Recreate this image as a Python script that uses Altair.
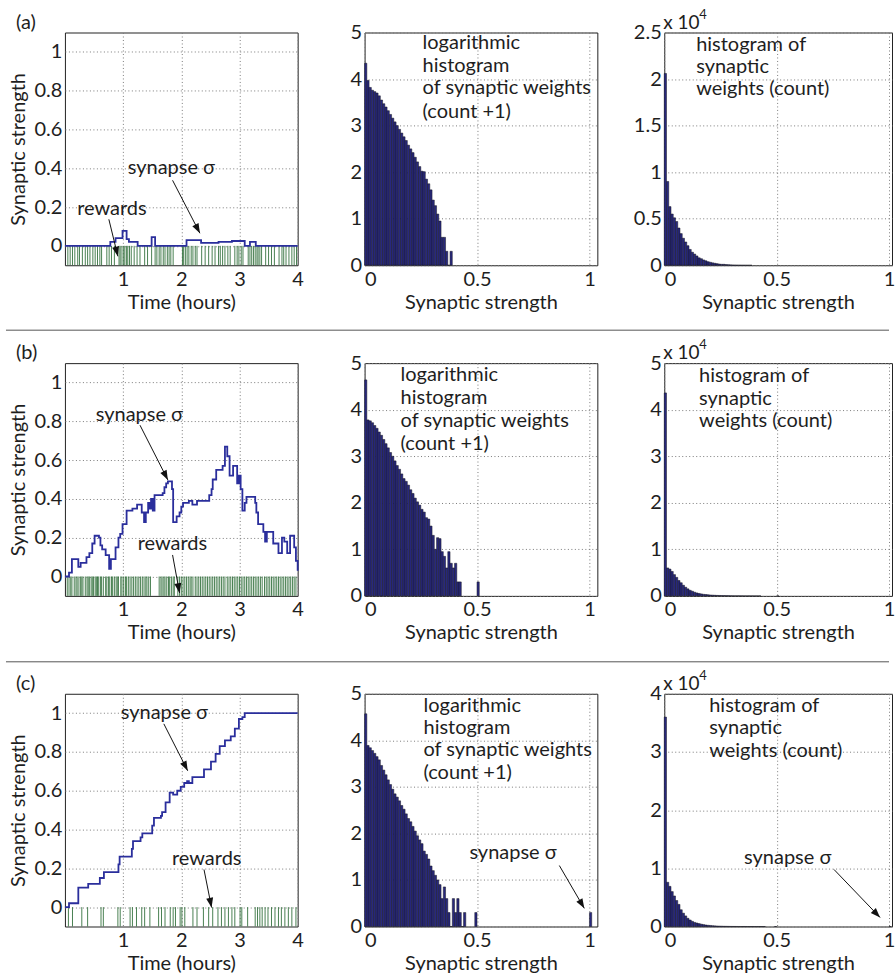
import math
import pandas as pd
import altair as alt

# ---------------- data ----------------
# synapse sigma traces (step-after: time in hours, strength)
syn_a_t = [0.00, 0.78, 0.87, 0.99, 1.06, 1.10, 1.25, 1.49, 1.55, 2.09, 2.34, 2.64, 2.87, 3.09, 3.18, 3.28, 4.00]
syn_a_v = [0.000, 0.020, 0.040, 0.077, 0.035, 0.020, 0.000, 0.045, 0.000, 0.030, 0.015, 0.020, 0.025, 0.000, 0.020, 0.000, 0.000]

syn_b_t = [0.00, 0.07, 0.12, 0.23, 0.27, 0.37, 0.42, 0.47, 0.51, 0.585, 0.61, 0.64, 0.70, 0.76, 0.79, 0.87, 0.92, 0.95,
           0.99, 1.06, 1.16, 1.24, 1.32, 1.36, 1.39, 1.43, 1.46, 1.48, 1.51, 1.54, 1.68, 1.71, 1.74, 1.77, 1.84, 1.86,
           1.92, 1.97, 2.00, 2.03, 2.13, 2.19, 2.27, 2.48, 2.52, 2.54, 2.60, 2.71, 2.75, 2.79, 2.83, 2.89, 2.96, 2.99,
           3.02, 3.05, 3.09, 3.12, 3.27, 3.29, 3.32, 3.41, 3.44, 3.47, 3.58, 3.67, 3.73, 3.77, 3.82, 3.87, 3.94, 3.97, 4.00]
syn_b_v = [0.00, 0.02, 0.09, 0.05, 0.07, 0.10, 0.12, 0.17, 0.21, 0.20, 0.16, 0.14, 0.11, 0.04, 0.09, 0.15, 0.20, 0.22,
           0.27, 0.34, 0.35, 0.37, 0.33, 0.28, 0.33, 0.38, 0.35, 0.40, 0.34, 0.42, 0.43, 0.46, 0.48, 0.49, 0.45, 0.28,
           0.31, 0.33, 0.36, 0.38, 0.39, 0.37, 0.39, 0.42, 0.45, 0.50, 0.55, 0.57, 0.67, 0.62, 0.52, 0.57, 0.48, 0.52,
           0.45, 0.34, 0.38, 0.41, 0.38, 0.33, 0.27, 0.23, 0.18, 0.23, 0.17, 0.12, 0.20, 0.18, 0.12, 0.21, 0.15, 0.08, 0.03]

syn_c_t = [0.00, 0.07, 0.23, 0.40, 0.60, 0.67, 0.92, 0.94, 1.15, 1.17, 1.30, 1.33, 1.50, 1.53, 1.65, 1.67, 1.73, 1.80,
           1.86, 1.93, 1.99, 2.05, 2.10, 2.13, 2.19, 2.39, 2.51, 2.59, 2.66, 2.75, 2.85, 2.92, 2.99, 3.05, 3.09, 4.00]
syn_c_v = [0.00, 0.02, 0.10, 0.12, 0.15, 0.18, 0.22, 0.26, 0.30, 0.34, 0.36, 0.38, 0.42, 0.46, 0.47, 0.49, 0.54, 0.59,
           0.58, 0.60, 0.62, 0.64, 0.65, 0.64, 0.67, 0.71, 0.75, 0.79, 0.83, 0.86, 0.88, 0.92, 0.97, 0.98, 1.00, 1.00]

# reward times (hours)
rew_a = [0.05, 0.09, 0.13, 0.17, 0.22, 0.25, 0.30, 0.35, 0.39, 0.43, 0.48, 0.52, 0.56, 0.60, 0.63, 0.72, 0.76, 0.80,
         0.85, 0.93, 0.95, 0.98, 1.01, 1.03, 1.06, 1.08, 1.11, 1.14, 1.19, 1.24, 1.29, 1.37, 1.42, 1.49, 1.55, 1.58,
         1.62, 1.65, 1.69, 1.72, 1.76, 1.79, 1.82, 1.86, 2.02, 2.04, 2.07, 2.10, 2.13, 2.17, 2.20, 2.24, 2.27, 2.35,
         2.41, 2.47, 2.53, 2.58, 2.64, 2.67, 2.71, 2.75, 2.80, 2.84, 2.92, 2.96, 2.99, 3.03, 3.06, 3.15, 3.18, 3.21,
         3.24, 3.27, 3.30, 3.32, 3.35, 3.38, 3.45, 3.50, 3.55, 3.60, 3.68, 3.73, 3.76, 3.80, 3.85, 3.90, 3.94, 3.98]
rew_b = [0.04, 0.07, 0.10, 0.12, 0.16, 0.19, 0.21, 0.24, 0.27, 0.29, 0.31, 0.35, 0.38, 0.40, 0.42, 0.45, 0.47, 0.49,
         0.52, 0.54, 0.56, 0.58, 0.61, 0.63, 0.66, 0.70, 0.72, 0.75, 0.77, 0.80, 0.82, 0.85, 0.88, 0.90, 0.92, 0.96,
         0.98, 1.01, 1.04, 1.06, 1.09, 1.12, 1.15, 1.18, 1.21, 1.24, 1.27, 1.30, 1.33, 1.36, 1.39, 1.41, 1.44, 1.47,
         1.62, 1.65, 1.67, 1.70, 1.72, 1.75, 1.78, 1.80, 1.83, 1.86, 1.88, 1.94, 1.97, 2.00, 2.03, 2.06, 2.09, 2.12,
         2.15, 2.17, 2.20, 2.24, 2.27, 2.30, 2.33, 2.36, 2.39, 2.42, 2.45, 2.48, 2.51, 2.54, 2.57, 2.60, 2.63, 2.66,
         2.69, 2.72, 2.75, 2.79, 2.82, 2.85, 2.88, 2.91, 2.94, 2.97, 3.00, 3.03, 3.06, 3.09, 3.12, 3.15, 3.18, 3.21,
         3.24, 3.27, 3.30, 3.33, 3.36, 3.39, 3.43, 3.46, 3.49, 3.52, 3.55, 3.58, 3.61, 3.64, 3.67, 3.70, 3.73, 3.76,
         3.79, 3.82, 3.85, 3.88, 3.91, 3.94, 3.97]
rew_c = [0.06, 0.13, 0.29, 0.39, 0.62, 0.66, 0.91, 0.95, 1.12, 1.16, 1.23, 1.32, 1.37, 1.46, 1.61, 1.66, 1.72, 1.81,
         1.86, 1.90, 1.98, 2.01, 2.06, 2.20, 2.27, 2.38, 2.47, 2.54, 2.63, 2.69, 2.75, 2.81, 2.87, 2.92, 3.01, 3.04,
         3.14, 3.27, 3.31, 3.35, 3.39, 3.44, 3.49, 3.55, 3.61, 3.67, 3.72, 3.78, 3.84, 3.90, 3.97]

# histograms, bins of width 0.01 starting at 0: log10(count+1) and count (x 10^4)
log_a = [4.34, 3.97, 3.82, 3.76, 3.73, 3.70, 3.64, 3.55, 3.47, 3.40, 3.32, 3.24, 3.16, 3.08, 3.00, 2.92, 2.84, 2.76,
         2.68, 2.58, 2.50, 2.42, 2.32, 2.22, 2.12, 2.02, 2.01, 1.85, 1.75, 1.62, 1.40, 1.28, 1.10, 0.95, 0.60, 0.60,
         0.30, 0.00, 0.30]
cnt_a = [2.06, 0.90, 0.63, 0.55, 0.51, 0.47, 0.40, 0.34, 0.29, 0.25, 0.21, 0.17, 0.14, 0.12, 0.10, 0.08, 0.07, 0.057,
         0.048, 0.038, 0.032, 0.026, 0.021, 0.017, 0.013, 0.010, 0.010, 0.007, 0.0056, 0.004, 0.0025, 0.0019, 0.0013,
         0.0009, 0.0003, 0.0003, 0.0001, 0.0, 0.0001]
log_b = [4.64, 3.78, 3.76, 3.72, 3.66, 3.60, 3.52, 3.45, 3.36, 3.27, 3.18, 3.08, 3.00, 2.90, 2.80, 2.72, 2.62, 2.52,
         2.46, 2.38, 2.28, 2.20, 2.10, 2.02, 1.95, 1.86, 1.80, 1.68, 1.65, 1.50, 1.30, 1.00, 1.25, 1.23, 0.95, 0.85,
         0.60, 0.95, 0.70, 0.60, 0.70, 0.30, 0.30]
cnt_b = [4.36, 0.60, 0.575, 0.525, 0.457, 0.398, 0.331, 0.282, 0.229, 0.186, 0.151, 0.120, 0.100, 0.079, 0.063, 0.052,
         0.042, 0.033, 0.029, 0.024, 0.019, 0.016, 0.013, 0.010, 0.009, 0.007, 0.006, 0.005, 0.0045, 0.003, 0.002,
         0.001, 0.0018, 0.0017, 0.0008, 0.0006, 0.0003, 0.0008, 0.0004, 0.0003, 0.0004, 0.0001, 0.0001]
extra_b_pos, extra_b_log, extra_b_cnt = [0.50], [0.30], [0.0001]
log_c = [4.57, 3.89, 3.84, 3.78, 3.72, 3.65, 3.58, 3.46, 3.36, 3.26, 3.15, 3.05, 2.95, 2.85, 2.78, 2.70, 2.60, 2.52,
         2.42, 2.32, 2.25, 2.15, 2.05, 1.95, 1.86, 1.78, 1.62, 1.55, 1.45, 1.30, 1.20, 1.10, 1.00, 0.90, 0.60, 0.85,
         0.60, 0.30, 0.00, 0.60, 0.30, 0.60, 0.30, 0.00, 0.30]
cnt_c = [3.60, 0.76, 0.69, 0.60, 0.525, 0.447, 0.38, 0.288, 0.229, 0.182, 0.141, 0.112, 0.089, 0.071, 0.060, 0.050,
         0.040, 0.033, 0.026, 0.021, 0.018, 0.014, 0.011, 0.009, 0.007, 0.006, 0.004, 0.0035, 0.0028, 0.0019, 0.0015,
         0.0012, 0.0009, 0.0007, 0.0003, 0.0006, 0.0003, 0.0001, 0.0, 0.0003, 0.0001, 0.0003, 0.0001, 0.0, 0.0001]
extra_c_pos, extra_c_log, extra_c_cnt = [0.49, 1.00], [0.30, 0.30], [0.0001, 0.0001]

# texts
panel_labels = ["(a)", "(b)", "(c)"]
time_title = "Time (hours)"
strength_title = "Synaptic strength"
log_lines = ["logarithmic", "histogram", "of synaptic weights", "(count +1)"]
cnt_lines = ["histogram of", "synaptic", "weights (count)"]
sigma_text = "synapse σ"
rewards_text = "rewards"
left_ticks = [0, 0.2, 0.4, 0.6, 0.8, 1]
time_ticks = [1, 2, 3, 4]
strength_ticks = [0, 0.5, 1]
right_ticks = {"a": [0, 0.5, 1, 1.5, 2, 2.5], "b": [0, 1, 2, 3, 4, 5], "c": [0, 1, 2, 3, 4]}

# ---------------- styling / geometry ----------------
FONT = "Lato"
FS = 20
TEXT_COLOR = "#1e1e1e"
LINE_COLOR = "#2a2e9c"
REWARD_COLOR = "#357340"
BAR_FILL = "#28287e"
BAR_STROKE = "#15151f"
H = 233
W_LEFT, W_MID, W_RIGHT = 233, 233, 228
LEFT_X, LEFT_Y = [0, 4], [-0.1, 1.1]
MID_X, MID_Y = [0, 1.035], [0, 5]
RIGHT_X = [0, 1.013]
RIGHT_Y = {"a": [0, 2.5], "b": [0, 5], "c": [0, 4]}
BIN = 0.01
ARROW_PATH = "M0,0L0.36,1L-0.36,1Z"


def sc(dom):
    return alt.Scale(domain=dom, nice=False, zero=False)


def one_row(**kw):
    return pd.DataFrame({k: [v] for k, v in kw.items()})


def data_texts(lines, x, ys, xdom, ydom, size=FS):
    df = pd.DataFrame({"x": [x] * len(lines), "y": ys, "text": lines})
    return alt.Chart(df).mark_text(align="left", baseline="middle", font=FONT, fontSize=size,
                                   color=TEXT_COLOR).encode(
        x=alt.X("x:Q", scale=sc(xdom)),
        y=alt.Y("y:Q", scale=sc(ydom)),
        text="text:N")


def px_text(txt, px, py, size=FS):
    return alt.Chart(one_row(text=txt)).mark_text(align="left", baseline="middle", font=FONT, fontSize=size,
                                                 color=TEXT_COLOR).encode(
        x=alt.value(px), y=alt.value(py), text="text:N")


def px_rule(x1, x2, y, color="#555", opacity=1.0):
    return alt.Chart(one_row(k=0)).mark_rule(color=color, strokeWidth=1, opacity=opacity).encode(
        x=alt.value(x1), x2=alt.value(x2), y=alt.value(y))


def arrow(x1, y1, x2, y2, xdom, ydom, w, h):
    sx = w / (xdom[1] - xdom[0])
    sy = h / (ydom[1] - ydom[0])
    ang = math.degrees(math.atan2((x2 - x1) * sx, (y2 - y1) * sy)) % 360
    df = one_row(x=x1, y=y1, xe=x2, ye=y2)
    rule = alt.Chart(df).mark_rule(color="#111", strokeWidth=1).encode(
        x=alt.X("x:Q", scale=sc(xdom)), y=alt.Y("y:Q", scale=sc(ydom)),
        x2="xe:Q", y2="ye:Q")
    head = alt.Chart(df).mark_point(shape=ARROW_PATH, filled=True, color="#111", size=380, angle=ang,
                                    opacity=1, strokeWidth=0).encode(
        x=alt.X("xe:Q", scale=sc(xdom)), y=alt.Y("ye:Q", scale=sc(ydom)))
    return [rule, head]


X_AXIS_KW = dict(format="~g", labelPadding=4, titlePadding=3)


def left_panel(t, v, rew, label, texts, arrows, extra=()):
    rdf = pd.DataFrame({"t": rew, "lo": [LEFT_Y[0]] * len(rew), "hi": [0.0] * len(rew)})
    base = alt.Chart(rdf).mark_rule(color=REWARD_COLOR, strokeWidth=1, opacity=0.9).encode(
        x=alt.X("t:Q", scale=sc(LEFT_X),
                axis=alt.Axis(title=time_title, values=time_ticks, labelFlush=False, **X_AXIS_KW)),
        y=alt.Y("lo:Q", scale=sc(LEFT_Y),
                axis=alt.Axis(title=strength_title, values=left_ticks, format="~g", labelPadding=3,
                              titlePadding=6)),
        y2="hi:Q")
    line = alt.Chart(pd.DataFrame({"t": t, "v": v})).mark_line(
        interpolate="step-after", color=LINE_COLOR, strokeWidth=1.8).encode(
        x=alt.X("t:Q", scale=sc(LEFT_X)), y=alt.Y("v:Q", scale=sc(LEFT_Y)))
    layers = [base, line]
    for (txt, x, y) in texts:
        layers.append(data_texts([txt], x, [y], LEFT_X, LEFT_Y))
    for a in arrows:
        layers += arrow(*a, LEFT_X, LEFT_Y, W_LEFT, H)
    layers.append(px_text(label, -49, -10))
    layers += list(extra)
    return alt.layer(*layers).properties(width=W_LEFT, height=H)


def hist_df(values, extra_pos=(), extra_val=()):
    s = [round(i * BIN, 2) for i in range(len(values))] + list(extra_pos)
    vals = list(values) + list(extra_val)
    return pd.DataFrame({"s": s, "s2": [round(x + BIN, 3) for x in s], "v": vals, "z": [0.0] * len(s)})


def bars(df, xdom, ydom, yticks):
    return alt.Chart(df).mark_rect(fill=BAR_FILL, stroke=BAR_STROKE, strokeWidth=0.5).encode(
        x=alt.X("s:Q", scale=sc(xdom),
                axis=alt.Axis(title=strength_title, values=strength_ticks, labelFlush=1, **X_AXIS_KW)),
        x2="s2:Q",
        y=alt.Y("v:Q", scale=sc(ydom), axis=alt.Axis(title="", values=yticks, format="~g", labelPadding=3)),
        y2="z:Q")


def mid_panel(df, text_x, text_ys, extra=()):
    layers = [bars(df, MID_X, MID_Y, [0, 1, 2, 3, 4, 5]),
              data_texts(log_lines, text_x, text_ys, MID_X, MID_Y)]
    layers += list(extra)
    return alt.layer(*layers).properties(width=W_MID, height=H)


def right_panel(df, key, text_x, text_ys, extra=()):
    ydom = RIGHT_Y[key]
    layers = [bars(df, RIGHT_X, ydom, right_ticks[key]),
              data_texts(cnt_lines, text_x, text_ys, RIGHT_X, ydom),
              px_text("x 10", -1, -10, size=19),
              px_text("4", 35, -18, size=13)]
    layers += list(extra)
    return alt.layer(*layers).properties(width=W_RIGHT, height=H)


# ---------------- panels ----------------
la = left_panel(syn_a_t, syn_a_v, rew_a, panel_labels[0],
                [(sigma_text, 1.08, 0.40), (rewards_text, 0.21, 0.19)],
                [(1.85, 0.338, 2.32, 0.065), (0.755, 0.137, 0.91, -0.054)],
                extra=[px_rule(-64, 826, -31, opacity=0.0)])
lb = left_panel(syn_b_t, syn_b_v, rew_b, panel_labels[1],
                [(sigma_text, 0.53, 0.83), (rewards_text, 1.25, 0.168)],
                [(1.29, 0.78, 1.77, 0.497), (1.85, 0.111, 1.97, -0.085)],
                extra=[px_rule(-59, 825, -33)])
lc = left_panel(syn_c_t, syn_c_v, rew_c, panel_labels[2],
                [(sigma_text, 0.96, 1.0), (rewards_text, 1.84, 0.25)],
                [(1.70, 0.945, 2.11, 0.703), (2.39, 0.194, 2.52, -0.002)],
                extra=[px_rule(-59, 825, -32)])

ma = mid_panel(hist_df(log_a), 0.258, [4.77, 4.29, 3.80, 3.30])
mb = mid_panel(hist_df(log_b, extra_b_pos, extra_b_log), 0.16, [4.74, 4.25, 3.76, 3.27])
mc = mid_panel(hist_df(log_c, extra_c_pos, extra_c_log), 0.262, [4.74, 4.27, 3.80, 3.30],
               extra=[data_texts([sigma_text], 0.466, [1.57], MID_X, MID_Y)]
               + arrow(0.866, 1.31, 0.977, 0.39, MID_X, MID_Y, W_MID, H))

ra = right_panel(hist_df(cnt_a), "a", 0.142, [2.37, 2.13, 1.89])
rb = right_panel(hist_df(cnt_b, extra_b_pos, extra_b_cnt), "b", 0.155, [4.72, 4.24, 3.76])
rc = right_panel(hist_df(cnt_c, extra_c_pos, extra_c_cnt), "c", 0.2, [3.79, 3.405, 3.02],
                 extra=[data_texts([sigma_text], 0.355, [1.17], RIGHT_X, RIGHT_Y["c"])]
                 + arrow(0.755, 0.98, 0.96, 0.155, RIGHT_X, RIGHT_Y["c"], W_RIGHT, H))

chart = alt.concat(la, ma, ra, lb, mb, rb, lc, mc, rc, columns=3,
                   spacing={"row": 98, "column": 67}, bounds="flush").properties(
    padding=0, background="white"
).configure(font=FONT).configure_axis(
    labelFont=FONT, titleFont=FONT, labelFontSize=FS, titleFontSize=FS, titleFontWeight="normal",
    labelColor=TEXT_COLOR, titleColor=TEXT_COLOR, domain=False, ticks=False,
    gridColor="#7a7a7a", gridOpacity=1, gridDash=[1, 2.5], gridWidth=1
).configure_view(stroke="#222", strokeWidth=1)

chart.save("out.html", embed_options={"renderer": "svg", "actions": False})
